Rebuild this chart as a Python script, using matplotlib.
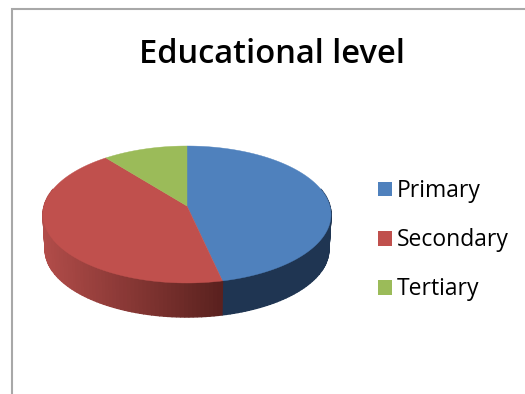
#!/usr/bin/env python

import matplotlib
matplotlib.use('Agg')
import matplotlib.pyplot as plt
from matplotlib.patches import Patch
from matplotlib.colors import to_rgb
import numpy as np

title = 'Educational level'
categories = ['Primary', 'Secondary', 'Tertiary']
shares = [46.5, 42.8, 10.7]
top_colors = ['#4f81bd', '#c0504d', '#9bbb59']

# side wall colours at the left and right end of each slice's visible rim
side_left = ['#1f3552', '#ad4a47', '#9bbb59']
side_right = ['#1f3552', '#5a211f', '#9bbb59']

# disc placement, in pixels
cx, cy = 187.0, 206.0
half_w = 142.9
half_h = 67.44
tilt = 0.124
depth = 35.2
bottom_scale = 0.985


def project(t, scale=1.0, shift=0.0):
    # t is clockwise from twelve o'clock
    u = np.sin(t)
    v = -np.cos(t)
    w = 1 - tilt * v
    return cx + scale * half_w * u / w, cy + scale * half_h * v / w + shift


fig = plt.figure(figsize=(5.25, 3.94), dpi=100)
ax = fig.add_axes([0, 0, 1, 1])
ax.set_xlim(0, 525)
ax.set_ylim(394, 0)
ax.axis('off')

# chart frame, only the top and left edges show
ax.plot([525, 11.5, 11.5], [9, 9, 394], color='#a8a8a8', lw=1.5, solid_joinstyle='miter')

edges = np.radians(np.concatenate([[0], np.cumsum(shares)]) / np.sum(shares) * 360)

# side wall first, cut in narrow strips for the shading
for i in range(len(shares)):
    lo = max(edges[i], np.radians(75))
    hi = min(edges[i + 1], np.radians(285))
    if lo >= hi:
        continue
    steps = np.linspace(lo, hi, int((hi - lo) / np.radians(1.5)) + 2)
    c_left = np.array(to_rgb(side_left[i]))
    c_right = np.array(to_rgb(side_right[i]))
    x_lo = project(hi)[0]
    x_hi = project(lo)[0]
    # left to right so each strip's overlap stays the same way round
    for a, b in zip(steps[:-1][::-1], steps[1:][::-1]):
        ax_, ay_ = project(a)
        bx_, by_ = project(b)
        cx_, cy_ = project(b, bottom_scale, depth)
        dx_, dy_ = project(a, bottom_scale, depth)
        f = ((ax_ + bx_) / 2 - x_lo) / max(x_hi - x_lo, 1)
        col = c_left + (c_right - c_left) * f
        ax.fill([ax_, bx_, cx_, dx_], [ay_, by_, cy_, dy_], color=col, lw=1.0)

# top face
for i in range(len(shares)):
    ts = np.linspace(edges[i], edges[i + 1], 120)
    xs, ys = project(ts)
    ax.fill(np.r_[cx, xs], np.r_[cy, ys], color=top_colors[i], lw=0.3)

ax.text(271.5, 54, title, family='Open Sans', fontweight='semibold', fontsize=23.5,
        color='black', ha='center', va='center')

handles = [Patch(facecolor=c, edgecolor='none') for c in top_colors]
ax.legend(handles, categories, loc='upper left', bbox_to_anchor=(378 / 525, 1 - 179 / 394),
          frameon=False, prop={'family': 'Open Sans', 'size': 16.5}, handlelength=0.62,
          handleheight=0.62, handletextpad=0.2, labelspacing=1.1, borderpad=0,
          borderaxespad=0)

plt.savefig('out.png', dpi=100)
